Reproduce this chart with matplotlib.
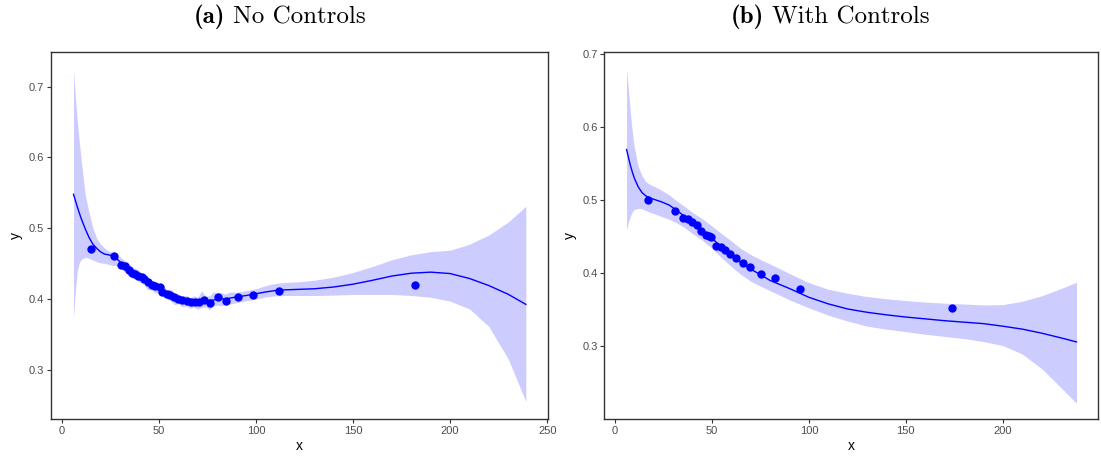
import matplotlib
matplotlib.use("Agg")
import matplotlib.pyplot as plt

plt.rcParams['font.family'] = ['Liberation Sans', 'DejaVu Sans']
plt.rcParams['axes.unicode_minus'] = False

#---------------------------------------------------------------------
# Panel (a): no controls
#---------------------------------------------------------------------
gridA = [6, 7, 8, 9, 10, 12, 14, 16, 18, 20, 22, 24, 26, 28, 30, 32, 34, 36,
         38, 40, 42, 44, 46, 48, 50, 52, 54, 56, 58, 60, 62, 64, 66, 68, 70,
         72, 74, 76, 78, 80, 82, 84, 86, 88, 90, 95, 100, 105, 110, 115, 120,
         130, 140, 150, 160, 170, 180, 190, 200, 210, 220, 230, 239]
fitA = [0.548, 0.539, 0.530, 0.5215, 0.5135, 0.4995, 0.487, 0.4775, 0.4715,
        0.4665, 0.4635, 0.4625, 0.461, 0.4575, 0.4525, 0.4475, 0.4425, 0.438,
        0.4345, 0.431, 0.428, 0.4245, 0.4205, 0.4175, 0.4145, 0.411, 0.4075,
        0.405, 0.4025, 0.4005, 0.399, 0.398, 0.397, 0.3965, 0.3965, 0.397,
        0.3975, 0.398, 0.3985, 0.3995, 0.400, 0.4005, 0.401, 0.402, 0.403,
        0.405, 0.4075, 0.410, 0.412, 0.413, 0.4135, 0.4145, 0.417, 0.421,
        0.4265, 0.4325, 0.4365, 0.438, 0.436, 0.429, 0.419, 0.4066, 0.3925]
upperA = [0.724, 0.685, 0.650, 0.622, 0.595, 0.548, 0.522, 0.500, 0.4855,
          0.4775, 0.472, 0.468, 0.466, 0.463, 0.4595, 0.455, 0.452, 0.4455,
          0.443, 0.440, 0.435, 0.4335, 0.4265, 0.4255, 0.4215, 0.4205, 0.4135,
          0.414, 0.4085, 0.4075, 0.4035, 0.4055, 0.4015, 0.4045, 0.4025,
          0.4115, 0.404, 0.4045, 0.410, 0.409, 0.4095, 0.407, 0.4095, 0.410,
          0.4095, 0.412, 0.4145, 0.419, 0.422, 0.4235, 0.424, 0.4265, 0.431,
          0.4375, 0.446, 0.4555, 0.4625, 0.467, 0.469, 0.4775, 0.4905, 0.509,
          0.531]
lowerA = [0.3736, 0.412, 0.440, 0.4515, 0.456, 0.459, 0.4575, 0.455, 0.4525,
          0.451, 0.4505, 0.449, 0.4475, 0.4475, 0.4435, 0.439, 0.4345, 0.4295,
          0.4275, 0.424, 0.4215, 0.4135, 0.413, 0.409, 0.4085, 0.403, 0.400,
          0.3975, 0.392, 0.3935, 0.389, 0.3905, 0.387, 0.389, 0.3855, 0.3885,
          0.389, 0.385, 0.3905, 0.3915, 0.3905, 0.3915, 0.393, 0.3935, 0.395,
          0.3975, 0.400, 0.403, 0.4045, 0.405, 0.405, 0.405, 0.4055, 0.4065,
          0.4065, 0.4065, 0.405, 0.4025, 0.397, 0.386, 0.361, 0.315, 0.255]
pointsAx = [15.0, 26.8, 30.3, 32.5, 34.6, 36.0, 37.7, 39.4, 41.1, 42.5, 44.2,
            46.3, 48.0, 50.5, 51.7, 54.0, 55.7, 57.9, 60.0, 62.0, 64.3, 66.5,
            68.6, 70.6, 73.2, 76.3, 80.3, 84.4, 90.9, 98.5, 111.7, 181.9]
pointsAy = [0.470, 0.4612, 0.4485, 0.4461, 0.4404, 0.4367, 0.4353, 0.4329,
            0.4311, 0.4283, 0.4235, 0.4202, 0.4178, 0.4169, 0.4093, 0.4075,
            0.4061, 0.4028, 0.400, 0.398, 0.3966, 0.3962, 0.3962, 0.3958,
            0.399, 0.3943, 0.4028, 0.3972, 0.4028, 0.4055, 0.4117, 0.420]

#---------------------------------------------------------------------
# Panel (b): with controls
#---------------------------------------------------------------------
gridB = [6, 7, 8, 9, 10, 12, 14, 16, 18, 20, 24, 28, 32, 36, 40, 45, 50, 55,
         60, 65, 70, 75, 80, 90, 100, 110, 120, 130, 140, 150, 160, 170, 180,
         190, 200, 210, 220, 230, 238]
fitB = [0.569, 0.558, 0.547, 0.538, 0.530, 0.518, 0.510, 0.5055, 0.503, 0.501,
        0.4975, 0.493, 0.4855, 0.4775, 0.4695, 0.459, 0.4475, 0.436, 0.425,
        0.4145, 0.4055, 0.398, 0.390, 0.379, 0.367, 0.358, 0.351, 0.3465,
        0.343, 0.340, 0.3375, 0.335, 0.333, 0.331, 0.3275, 0.3235, 0.318,
        0.3115, 0.306]
upperB = [0.679, 0.650, 0.618, 0.592, 0.572, 0.546, 0.533, 0.525, 0.5215,
          0.519, 0.5135, 0.507, 0.4985, 0.491, 0.483, 0.4745, 0.4645, 0.454,
          0.444, 0.4335, 0.4255, 0.4187, 0.4125, 0.3995, 0.387, 0.378, 0.3725,
          0.368, 0.365, 0.3625, 0.3605, 0.359, 0.3578, 0.3565, 0.357, 0.3615,
          0.369, 0.379, 0.3875]
lowerB = [0.459, 0.470, 0.478, 0.484, 0.487, 0.4885, 0.488, 0.4855, 0.483,
          0.4815, 0.4775, 0.4735, 0.4685, 0.462, 0.454, 0.445, 0.434, 0.421,
          0.409, 0.398, 0.389, 0.3823, 0.376, 0.3635, 0.3525, 0.3425, 0.3345,
          0.3275, 0.3235, 0.320, 0.3165, 0.3135, 0.3105, 0.3065, 0.301,
          0.2895, 0.2695, 0.2435, 0.222]
pointsBx = [16.9, 31.2, 34.9, 37.5, 39.8, 42.4, 44.6, 47.1, 48.5, 49.6, 52.3,
            54.7, 56.9, 59.1, 62.4, 65.8, 69.8, 75.5, 82.7, 95.6, 174.0]
pointsBy = [0.500, 0.4854, 0.475, 0.4736, 0.4695, 0.4658, 0.4576, 0.4522,
            0.4505, 0.4498, 0.4375, 0.4364, 0.4316, 0.4262, 0.4203, 0.4143,
            0.4088, 0.3988, 0.3929, 0.3783, 0.3528]

titleTags = ['(a)', '(b)']
titleTexts = ['No Controls', 'With Controls']
xticksA = [0, 50, 100, 150, 200, 250]
xticksB = [0, 50, 100, 150, 200]
yticksA = [0.3, 0.4, 0.5, 0.6, 0.7]
yticksB = [0.3, 0.4, 0.5, 0.6, 0.7]


def drawPanel(ax, grid, fit, lower, upper, px, py, xticks, yticks, xlim, ylim):
    ax.fill_between(grid, lower, upper, color='blue', alpha=0.2, linewidth=0)
    ax.plot(grid, fit, color='blue', linewidth=1.0)
    ax.plot(px, py, 'o', color='blue', markersize=6, markeredgewidth=0)
    ax.set_xlim(xlim)
    ax.set_ylim(ylim)
    ax.set_xticks(xticks)
    ax.set_yticks(yticks)
    ax.set_yticklabels(['%.1f' % v for v in yticks])
    ax.tick_params(direction='out', length=3, width=0.8, colors='#333333',
                   labelsize=8, labelcolor='#4D4D4D', pad=2)
    for spine in ax.spines.values():
        spine.set_color('#333333')
        spine.set_linewidth(1.0)
    ax.set_xlabel('x', fontsize=10, labelpad=2)
    ax.set_ylabel('y', fontsize=10, labelpad=4)


def drawTitle(fig, xCenter, tag, text):
    # bold tag + roman text, centred together (Computer Modern look)
    renderer = fig.canvas.get_renderer()
    t1 = fig.text(0, 0.963, tag, family='cmb10', fontsize=18, va='center')
    t2 = fig.text(0, 0.963, text, family='cmr10', fontsize=18, va='center')
    w1 = t1.get_window_extent(renderer).width / fig.bbox.width
    w2 = t2.get_window_extent(renderer).width / fig.bbox.width
    gap = 8.0 / fig.bbox.width
    start = xCenter - (w1 + gap + w2) / 2
    t1.set_x(start)
    t2.set_x(start + w1 + gap)


fig = plt.figure(figsize=(11.01, 4.59), dpi=100)
axA = fig.add_axes([0.0463, 0.0871, 0.4514, 0.7996])
axB = fig.add_axes([0.5490, 0.0871, 0.4483, 0.7996])

drawPanel(axA, gridA, fitA, lowerA, upperA, pointsAx, pointsAy,
          xticksA, yticksA, (-5.6, 250.4), (0.2305, 0.749))
drawPanel(axB, gridB, fitB, lowerB, upperB, pointsBx, pointsBy,
          xticksB, yticksB, (-5.4, 249.1), (0.2006, 0.7023))

drawTitle(fig, 0.254, titleTags[0], titleTexts[0])
drawTitle(fig, 0.754, titleTags[1], titleTexts[1])

fig.savefig('out.png', dpi=100)
